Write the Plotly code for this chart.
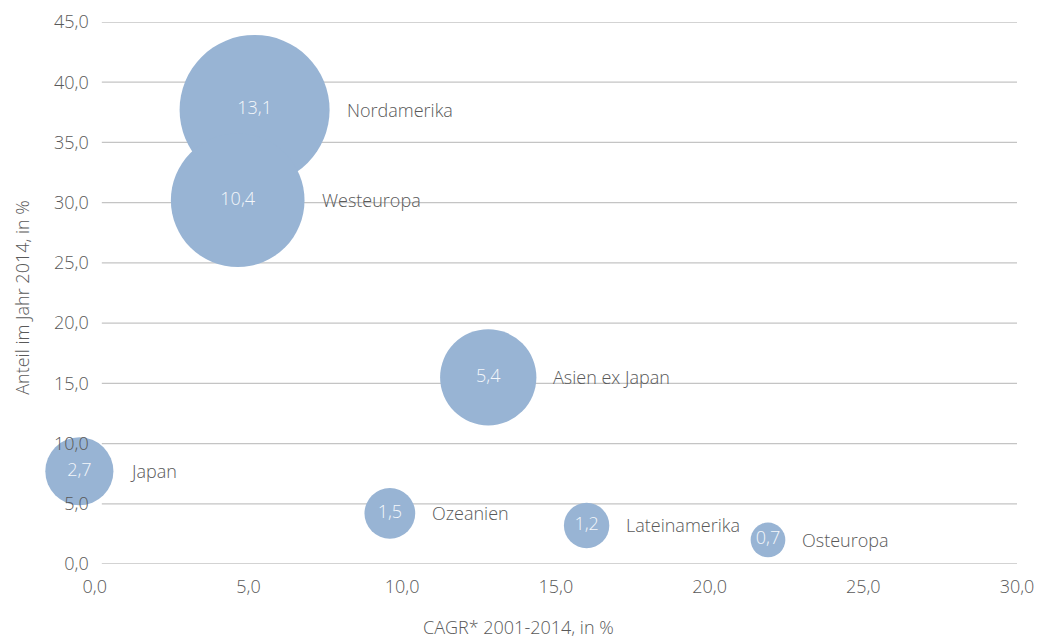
import math
import plotly.graph_objects as go

# data
regions = ["Nordamerika", "Westeuropa", "Asien ex Japan", "Japan",
           "Ozeanien", "Lateinamerika", "Osteuropa"]
cagr = [5.2, 4.65, 12.8, -0.5, 9.6, 16.0, 21.9]        # CAGR 2001-2014, in %
share = [37.7, 30.2, 15.5, 7.7, 4.2, 3.2, 2.0]         # Anteil 2014, in %
volume = [13.1, 10.4, 5.4, 2.7, 1.5, 1.2, 0.7]         # bubble value

x_ticks = [0, 5, 10, 15, 20, 25, 30]
y_ticks = [0, 5, 10, 15, 20, 25, 30, 35, 40, 45]

BUBBLE = "#98B4D4"
GREY = "#595959"
FONT = "Open Sans"
MAX_D = 150  # pixel diameter of the largest bubble

# x range starts a bit below 0 so the Japan bubble (negative CAGR) is kept
X_MIN, X_MAX = -1.0, 30.0
y_axis_pos = (0 - X_MIN) / (X_MAX - X_MIN)

sizeref = 2.0 * max(volume) / MAX_D ** 2
value_txt = [f"{v:.1f}".replace(".", ",") for v in volume]

fig = go.Figure()
fig.add_trace(go.Scatter(
    x=cagr, y=share, mode="markers+text",
    marker=dict(size=volume, sizemode="area", sizeref=sizeref,
                color=BUBBLE, opacity=1, line=dict(width=0)),
    text=value_txt, textposition="middle center",
    textfont=dict(family=FONT, size=18, color="#F4F7FB", weight=300),
    cliponaxis=False, hoverinfo="skip", showlegend=False,
))

# horizontal gridlines, starting just right of x = 0 like the original
for t in y_ticks:
    fig.add_shape(type="line", xref="x", yref="y", x0=0.23, x1=X_MAX,
                  y0=t, y1=t, layer="below",
                  line=dict(color="#C4C4C4", width=1.3))

# region names to the right of each bubble
for name, x, y, v in zip(regions, cagr, share, volume):
    r = math.sqrt(v / (2 * sizeref))
    fig.add_annotation(
        x=x, y=y, xref="x", yref="y", text=name, showarrow=False,
        xanchor="left", yanchor="middle", xshift=r + 15,
        font=dict(family=FONT, size=18, color=GREY, weight=300),
    )

fig.add_annotation(
    x=0.477, y=-0.117, xref="paper", yref="paper",
    text="CAGR* 2001-2014, in %", showarrow=False,
    xanchor="center", yanchor="middle",
    font=dict(family=FONT, size=18, color=GREY, weight=300),
)
fig.add_annotation(
    x=-0.045, y=0.4915, xref="paper", yref="paper",
    text="Anteil im Jahr 2014, in %", showarrow=False, textangle=-90,
    xanchor="center", yanchor="middle",
    font=dict(family=FONT, size=18, color=GREY, weight=300),
)

fig.update_layout(
    width=1040, height=639,
    margin=dict(l=64, r=23, t=22, b=75, autoexpand=False),
    paper_bgcolor="white", plot_bgcolor="white",
    separators=", ",
    font=dict(family=FONT, size=18, color=GREY),
    xaxis=dict(range=[X_MIN, X_MAX], tickvals=x_ticks, tickformat=".1f",
               showgrid=False, zeroline=False, showline=False,
               ticks="", ticklabelstandoff=10, automargin=False,
               tickfont=dict(family=FONT, size=18, color=GREY, weight=300)),
    yaxis=dict(range=[0, 45], tickvals=y_ticks, tickformat=".1f",
               anchor="free", position=y_axis_pos, automargin=False,
               showgrid=False, zeroline=False, showline=False, ticks="",
               ticklabelstandoff=6,
               tickfont=dict(family=FONT, size=18, color=GREY, weight=300)),
)

# drop the default page margin so the figure fills the window exactly
fig.write_html(
    "out.html",
    config={"displayModeBar": False},
    post_script="document.body.style.margin='0';"
                "document.body.style.overflow='hidden';",
)
